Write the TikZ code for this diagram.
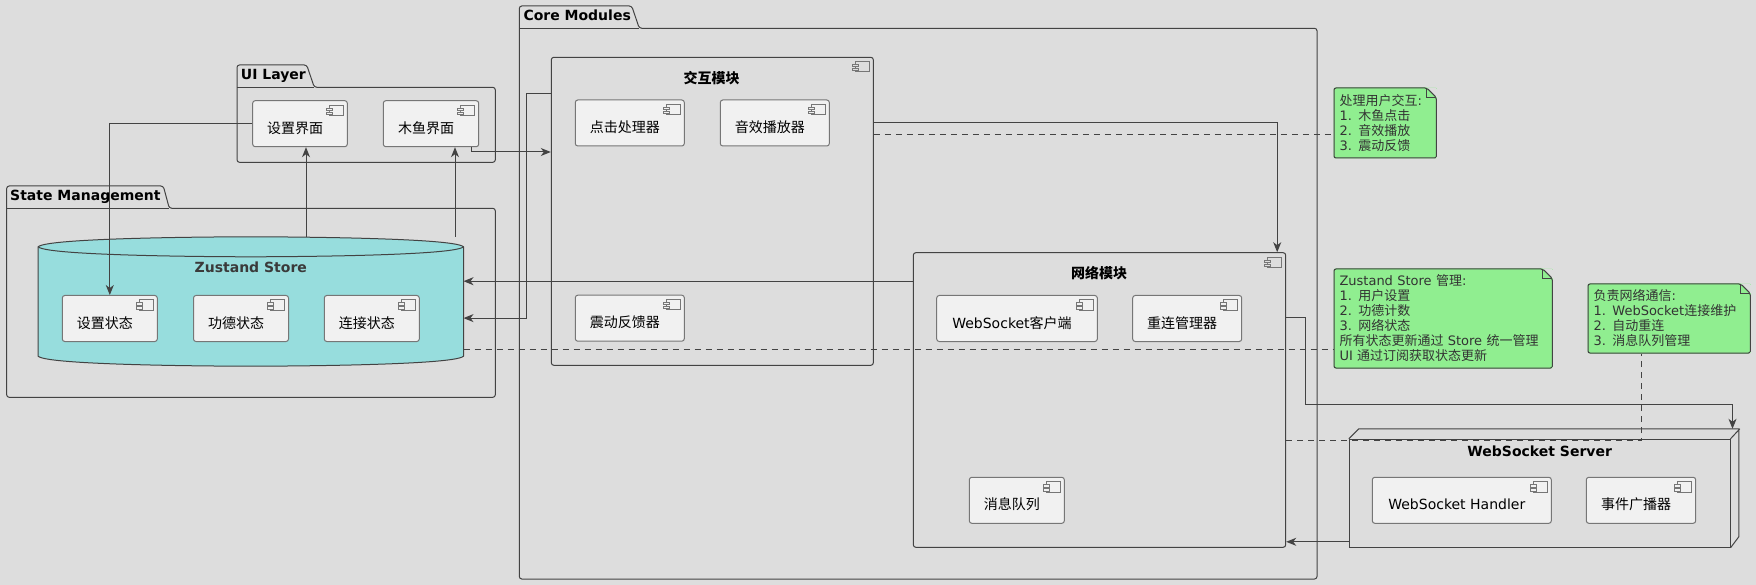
\documentclass[tikz,border=0pt]{standalone}
\usepackage{fontspec}
\setmainfont{DejaVu Sans}
\newfontfamily\zh{Noto Sans CJK SC}
\usetikzlibrary{arrows.meta,calc}

\definecolor{bgcolor}{RGB}{221,221,221}
\definecolor{linecolor}{RGB}{67,67,67}
\definecolor{compline}{RGB}{118,118,118}
\definecolor{compfill}{RGB}{241,241,241}
\definecolor{dbfill}{RGB}{151,221,221}
\definecolor{notefill}{RGB}{144,238,144}
\definecolor{notetext}{RGB}{51,51,51}
\definecolor{dbtext}{RGB}{58,58,58}

\newlength{\du}
\setlength{\du}{1pt}

% component icon in the top right corner of a box
\newcommand{\compicon}[2]{%
  \draw[compline, line width=0.8\du, sharp corners]
    ([shift={(-18.3,4.3)}]#1.north east) rectangle ([shift={(-4,14.6)}]#1.north east);
  \filldraw[fill=#2, draw=compline, line width=0.8\du, sharp corners]
    ([shift={(-21.3,7.3)}]#1.north east) rectangle ([shift={(-15.3,9.6)}]#1.north east)
    ([shift={(-21.3,11.3)}]#1.north east) rectangle ([shift={(-15.3,13.6)}]#1.north east);}

% dog ear of a note
\newcommand{\notefold}[1]{%
  \fill[bgcolor, sharp corners] ([shift={(-10,0)}]#1.north east) -- (#1.north east)
    -- ([shift={(0,10)}]#1.north east) -- cycle;
  \draw[linecolor, line width=1\du, rounded corners=2\du]
    ([shift={(0.5,0.5)}]#1.north west) -- ([shift={(-10,0.5)}]#1.north east)
    -- ([shift={(-0.5,10)}]#1.north east) -- ([shift={(-0.5,-0.5)}]#1.south east)
    -- ([shift={(0.5,-0.5)}]#1.south west) -- cycle;
  \draw[linecolor, line width=1\du, sharp corners]
    ([shift={(-10,0.5)}]#1.north east) -- ([shift={(-10,10)}]#1.north east)
    -- ([shift={(-0.5,10)}]#1.north east);}

\tikzset{
  comp/.style={draw=compline, fill=compfill, line width=1\du, rounded corners=2.5\du,
    minimum height=46\du, inner sep=0pt, text height=19\du, text depth=0pt,
    font=\fontsize{14}{16}\selectfont, execute at end node={\hspace*{10\du}},
    path picture={\compicon{path picture bounding box}{compfill}}},
  module/.style={draw=linecolor, line width=1\du, rounded corners=2.5\du, inner sep=0pt,
    path picture={\compicon{path picture bounding box}{bgcolor}}},
  pkg/.style={draw=linecolor, line width=1\du, rounded corners=2.5\du},
  pkgtitle/.style={anchor=base west, inner sep=0pt, font=\fontsize{14}{16}\selectfont\bfseries},
  boxtitle/.style={anchor=base, inner sep=0pt, font=\fontsize{14}{16}\selectfont\bfseries},
  note/.style={fill=notefill, rounded corners=2\du, anchor=north west, inner xsep=6\du,
    inner ysep=0pt, align=left, text=notetext, font=\fontsize{13}{15}\selectfont,
    path picture={\notefold{path picture bounding box}}},
  arr/.style={draw=linecolor, line width=1pt, -{Stealth[length=10pt,width=8pt,inset=3pt]}},
  notelink/.style={draw=linecolor, line width=1pt, dash pattern=on 6pt off 5pt}
}

\begin{document}
\begin{tikzpicture}[x=1\du, y=-1\du]
\useasboundingbox (0,0) rectangle (1756,585);
\fill[bgcolor] (0,0) rectangle (1756,585);

% packages
\draw[pkg] (519.3,579) -- (519.3,6) -- (631.7,6) -- (639.3,28.3) -- (1317,28.3) -- (1317,579) -- cycle;
\draw[pkg] (519.3,28.3) -- (639.3,28.3);
\node[pkgtitle] (core-title) at (523.3,21) {Core Modules};

\draw[pkg] (237,162.3) -- (237,65) -- (306.7,65) -- (314.3,87.3) -- (495.3,87.3) -- (495.3,162.3) -- cycle;
\draw[pkg] (237,87.3) -- (314.3,87.3);
\node[pkgtitle] (ui-title) at (240.7,80) {UI Layer};

\draw[pkg] (6.7,397.3) -- (6.7,186) -- (163.3,186) -- (169.3,208.3) -- (495.3,208.3) -- (495.3,397.3) -- cycle;
\draw[pkg] (6.7,208.3) -- (169.3,208.3);
\node[pkgtitle] (state-title) at (10,201) {State Management};

% UI layer
\node[comp, minimum width=94.6\du] (szjm) at (300,123.7) {\zh 设置界面};
\node[comp, minimum width=95.4\du] (myjm) at (431,123.7) {\zh 木鱼界面};

% Zustand store
\node[minimum width=425\du, minimum height=129\du, inner sep=0pt] (store) at (250.8,301.5) {};
\filldraw[fill=dbfill, draw=linecolor, line width=1\du]
  ($(store.north west)+(0,10)$) .. controls ($(store.north west)+(10,0)$) and (store.north) .. (store.north)
  .. controls (store.north) and ($(store.north east)+(-10,0)$) .. ($(store.north east)+(0,10)$)
  -- ($(store.south east)+(0,-10)$)
  .. controls ($(store.south east)+(-10,0)$) and (store.south) .. (store.south)
  .. controls (store.south) and ($(store.south west)+(10,0)$) .. ($(store.south west)+(0,-10)$)
  -- cycle;
\draw[linecolor, line width=1\du]
  ($(store.north west)+(0,10)$) .. controls ($(store.north west)+(10,20)$) and ($(store.north)+(0,20)$) .. ($(store.north)+(0,20)$)
  .. controls ($(store.north)+(0,20)$) and ($(store.north east)+(-10,20)$) .. ($(store.north east)+(0,10)$);
\node[boxtitle, text=dbtext] (store-title) at (250.8,272.3) {Zustand Store};
\node[comp, minimum width=95\du] (szzt) at (109.8,318.5) {\zh 设置状态};
\node[comp, minimum width=95\du] (gdzt) at (241,318.5) {\zh 功德状态};
\node[comp, minimum width=95\du] (ljzt) at (371.8,318.5) {\zh 连接状态};

% interaction module
\node[module, minimum width=322\du, minimum height=308\du] (jhmk) at (712.3,211.3) {};
\node[boxtitle] (jhmk-title) at (711.7,83.5) {\zh 交互模块};
\node[comp, minimum width=109\du] (djcl) at (629.8,123) {\zh 点击处理器};
\node[comp, minimum width=109\du] (yxbf) at (774.8,123) {\zh 音效播放器};
\node[comp, minimum width=109\du] (zdfk) at (629.8,318.2) {\zh 震动反馈器};

% network module
\node[module, minimum width=372.4\du, minimum height=294.6\du] (wlmk) at (1099.5,400) {};
\node[boxtitle] (wlmk-title) at (1099,278.5) {\zh 网络模块};
\node[comp, minimum width=160.6\du] (wsc) at (1017,318.5) {WebSocket{\zh 客户端}};
\node[comp, minimum width=109\du] (clgl) at (1187.2,318.5) {\zh 重连管理器};
\node[comp, minimum width=95\du] (xxdl) at (1016.8,500.3) {\zh 消息队列};

% websocket server
\node[draw=linecolor, line width=1\du, minimum width=380.7\du, minimum height=108\du] (wss) at (1539.65,493.3) {};
\draw[pkg, sharp corners] (wss.north west) -- ++(10,-10) -- ++(380,0) -- ++(0,108) -- (wss.south east)
  (wss.north east) -- ++(9.3,-10);
\node[boxtitle] (wss-title) at (1539.7,456) {WebSocket Server};
\node[comp, minimum width=179\du] (wsh) at (1461.8,500.3) {WebSocket Handler};
\node[comp, minimum width=109.4\du] (sjgb) at (1641,500.3) {\zh 事件广播器};

% notes
\node[note, text width=91.4\du, minimum height=71\du] (note1) at (1333.3,87.3)
  {{\zh 处理用户交互}:\\1. {\zh 木鱼点击}\\2. {\zh 音效播放}\\3. {\zh 震动反馈}};
\node[note, text width=207.4\du, minimum height=100\du] (note2) at (1333.3,268.3)
  {Zustand Store {\zh 管理}:\\1. {\zh 用户设置}\\2. {\zh 功德计数}\\3. {\zh 网络状态}\\{\zh 所有状态更新通过} Store {\zh 统一管理}\\UI {\zh 通过订阅获取状态更新}};
\node[note, text width=151.4\du, minimum height=70\du] (note3) at (1587.3,283.3)
  {{\zh 负责网络通信}:\\1. WebSocket{\zh 连接维护}\\2. {\zh 自动重连}\\3. {\zh 消息队列管理}};

% connectors
\draw[arr] (szjm.west) -| (szzt.north);
\coordinate (szjm-in) at ($(szjm.south)+(6,0)$);
\draw[arr] (szjm-in |- store.north) -- (szjm-in);
\coordinate (myjm-in) at ($(myjm.south)+(24,0)$);
\draw[arr] (myjm-in |- store.north) -- (myjm-in);
\draw[arr] ($(myjm.south east)+(-8,0)$) |- ($(jhmk.north west)+(0,95.2)$);
\draw[arr] ($(jhmk.north west)+(0,37)$) -- ++(-24,0) |- ($(store.north east)+(0,81.3)$);
\draw[arr] ($(wlmk.north west)+(0,29)$) coordinate (wlmk-out) -- (wlmk-out -| store.east);
\draw[arr] ($(jhmk.north east)+(0,66)$) -| ($(wlmk.north east)+(-9,0)$);
\coordinate (wss-in) at ($(wss.north east)+(2,-10)$);
\draw[arr] ($(wlmk.north east)+(0,65.6)$) -- ++(19.3,0) |- ($(wss-in)+(0,-24.3)$) -- (wss-in);
\draw[arr] ($(wss.south west)+(0,-6)$) coordinate (wss-out) -- (wss-out -| wlmk.east);

% note links
\draw[notelink] ($(jhmk.north east)+(0,78)$) coordinate (jhmk-n) -- (jhmk-n -| note1.west);
\draw[notelink] ($(store.north east)+(0,113)$) coordinate (store-n) -- (store-n -| note2.west);
\draw[notelink] ($(wlmk.north east)+(0,188.3)$) -| ($(note3.south)+(-27.3,0)$);
\end{tikzpicture}
\end{document}
